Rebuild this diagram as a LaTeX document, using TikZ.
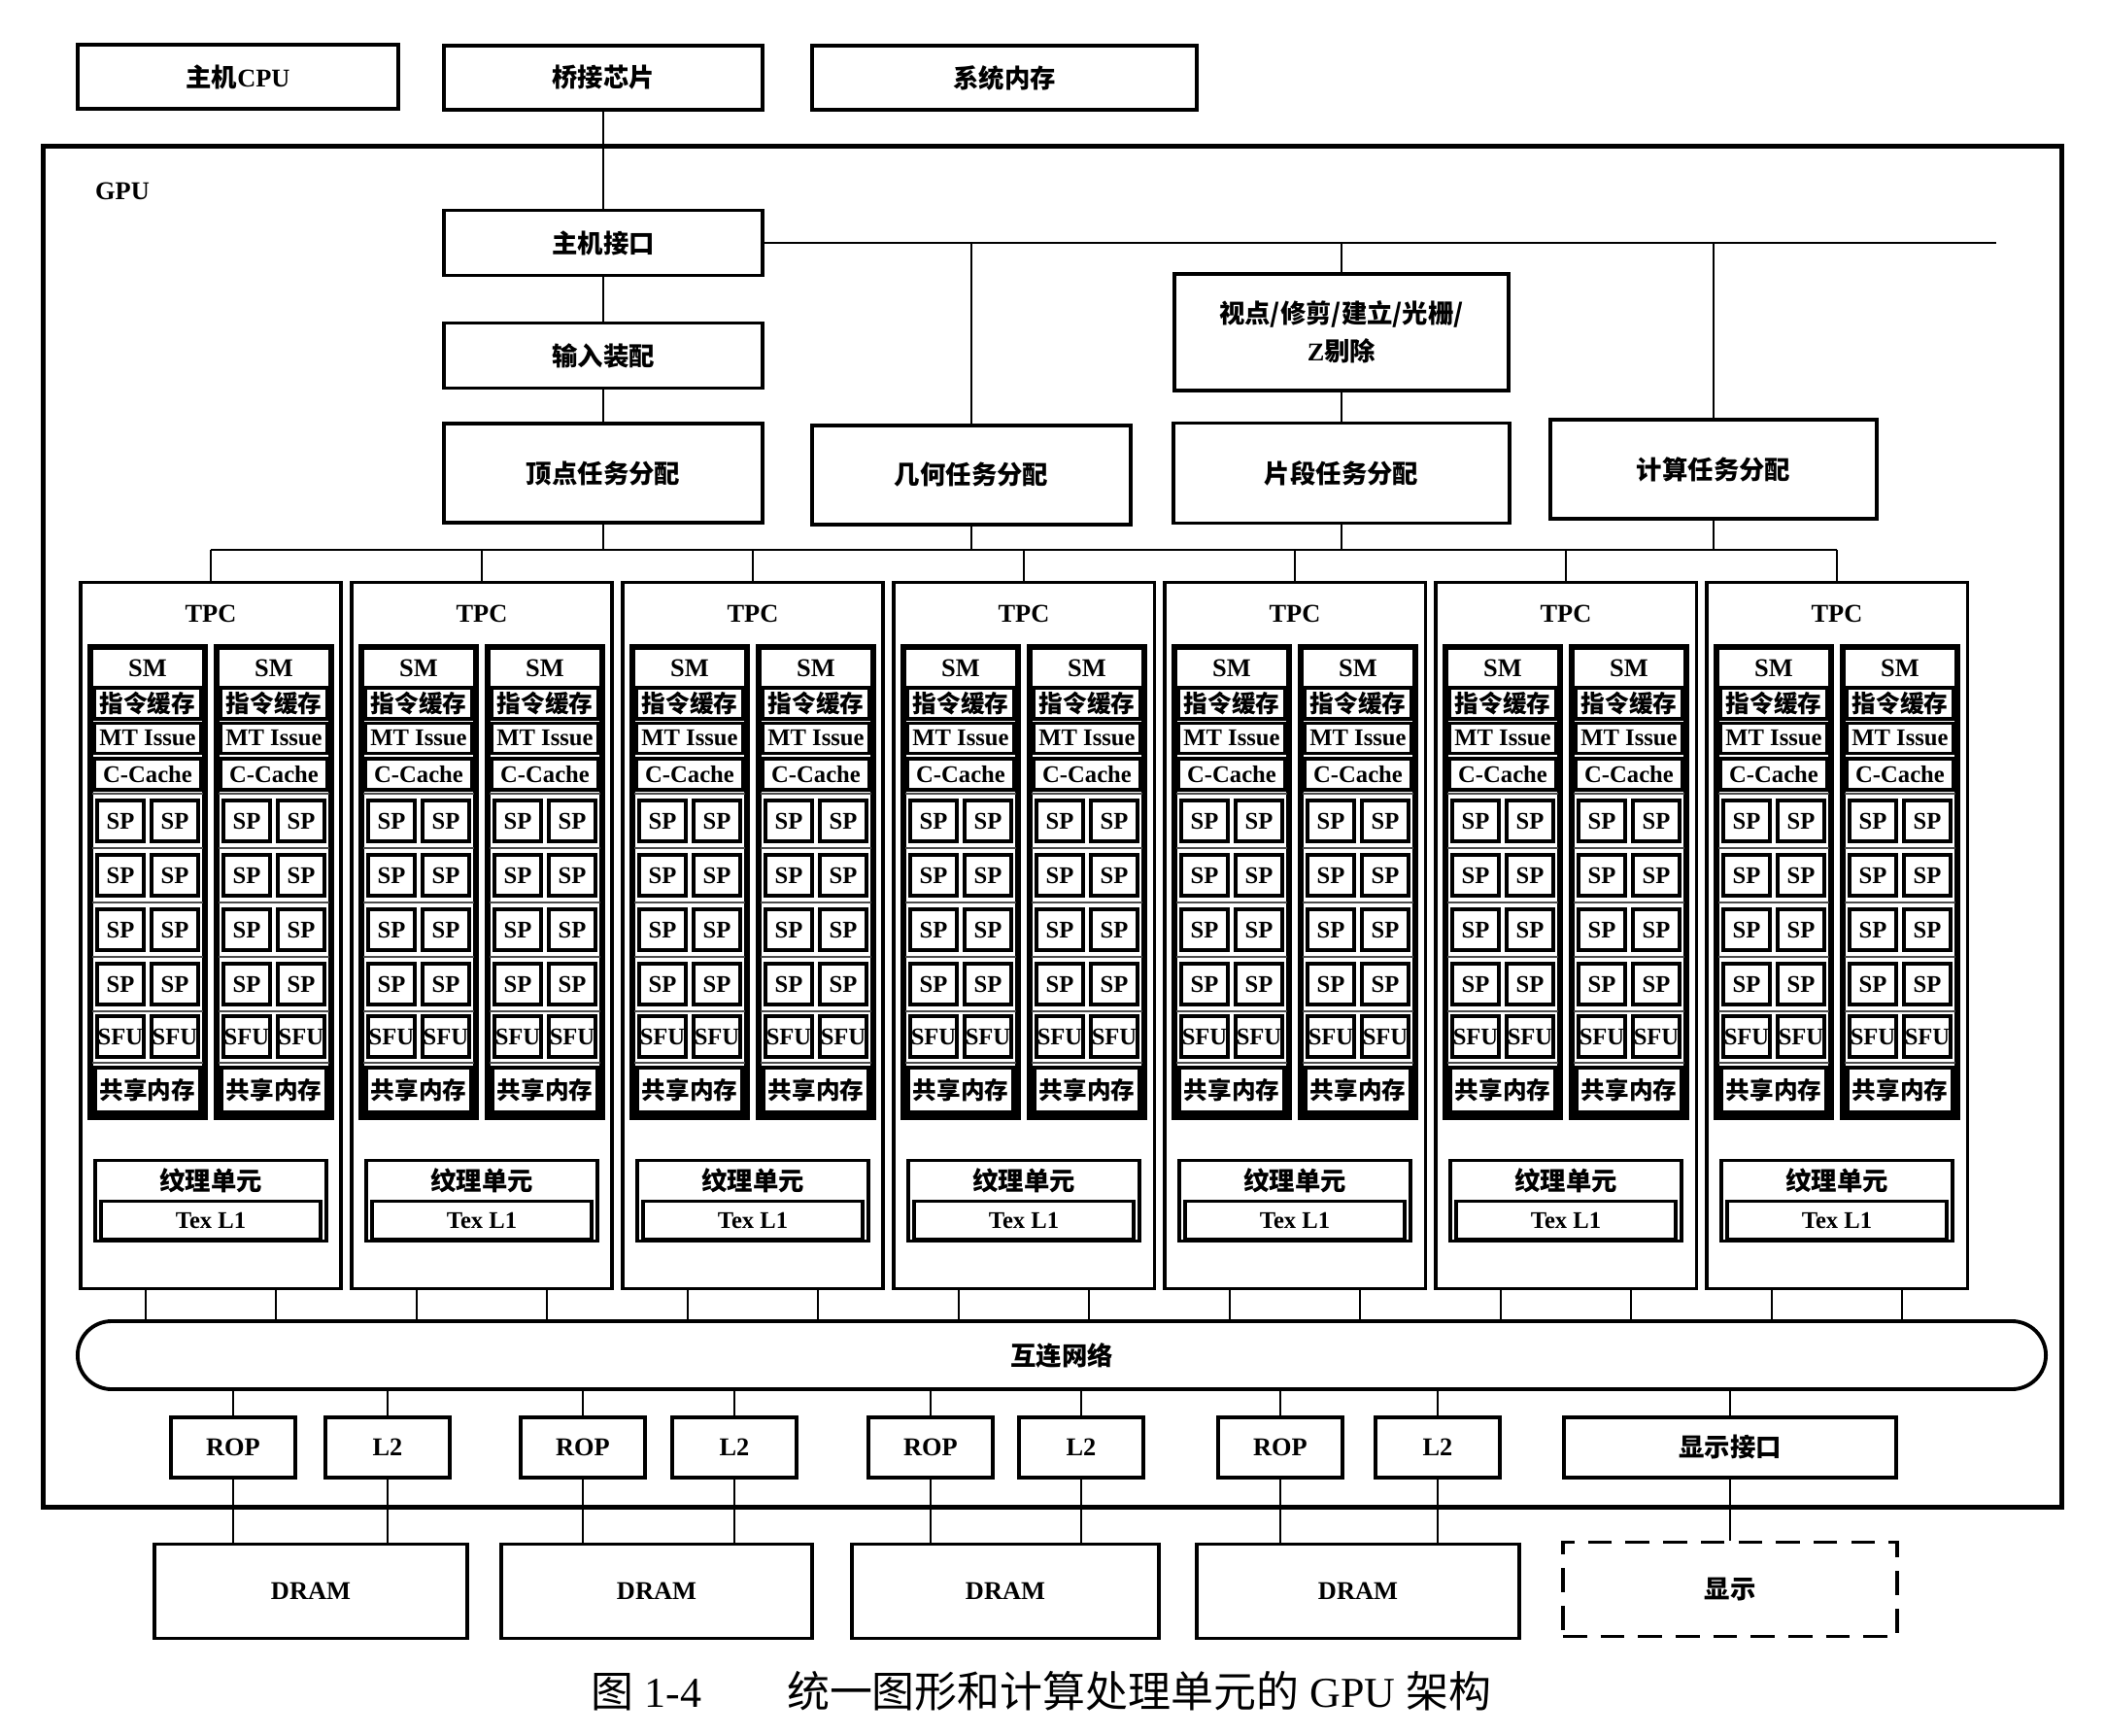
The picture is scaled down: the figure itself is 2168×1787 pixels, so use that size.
\documentclass[tikz,border=0pt]{standalone}
\usepackage{fontspec}
\setmainfont{Liberation Serif}
\newfontfamily\zh{Noto Sans CJK SC}
\tikzset{box/.style={draw,line width=1.1pt,inner sep=0pt,fill=white,font=\fontsize{7.5}{11}\selectfont\bfseries},
  wire/.style={line width=0.6pt},
  tpcbox/.style={draw,line width=0.9pt,minimum width=2.68cm,minimum height=7.26cm,inner sep=0pt},
  smbox/.style={draw,line width=1.6pt,minimum width=1.18cm,minimum height=4.84cm,inner sep=0pt},
  cell/.style={draw,line width=1.1pt,fill=white,inner sep=0pt,font=\fontsize{7}{8}\selectfont\bfseries},
  spcell/.style={cell,minimum width=0.48cm,minimum height=0.42cm},
  lab/.style={inner sep=0pt,font=\fontsize{7.5}{9}\selectfont\bfseries},
  rowsep/.style={line width=0.5pt,black!70}}
\begin{document}
\begin{tikzpicture}[x=0.01cm,y=-0.01cm]
    \useasboundingbox (0,0) rectangle (2168,1787);
    \node[draw,line width=1.5pt,minimum width=20.77cm,minimum height=14cm] (gpu) at (1083.5,851) {};
    \node[lab] (gpulab) at (126,197) {GPU};

    \node[box,minimum width=3.29cm,minimum height=0.66cm] (cpu) at (245,79) {{\zh 主机}CPU};
    \node[box,minimum width=3.28cm,minimum height=0.66cm] (bridge) at (621,80) {\zh 桥接芯片};
    \node[box,minimum width=3.95cm,minimum height=0.66cm] (sysmem) at (1034,80) {\zh 系统内存};

    \node[box,minimum width=3.28cm,minimum height=0.67cm] (hostif) at (621,250) {\zh 主机接口};
    \node[box,minimum width=3.28cm,minimum height=0.67cm] (input) at (621,366) {\zh 输入装配};
    \node[box,minimum width=3.28cm,minimum height=1.02cm] (vertex) at (621,487) {\zh 顶点任务分配};
    \node[box,minimum width=3.27cm,minimum height=1.02cm] (geom) at (1000,489) {\zh 几何任务分配};
    \node[box,minimum width=3.44cm,minimum height=1.2cm,align=center] (view) at (1381,342) {{\zh 视点/修剪/建立/光栅/}\\Z{\zh 剔除}};
    \node[box,minimum width=3.45cm,minimum height=1.03cm] (frag) at (1381,487) {\zh 片段任务分配};
    \node[box,minimum width=3.35cm,minimum height=1.02cm] (comp) at (1764,483) {\zh 计算任务分配};

    \coordinate (busa) at (2055,250);
    \coordinate (busb) at (217,566);
    \coordinate (busc) at (1891,566);

    \draw[wire] (bridge) -- (hostif);
    \draw[wire] (hostif) -- (input);
    \draw[wire] (input) -- (vertex);
    \draw[wire] (hostif.east) -- (busa);
    \draw[wire] (geom.north) -- (geom.north |- busa);
    \draw[wire] (view.north) -- (view.north |- busa);
    \draw[wire] (comp.north) -- (comp.north |- busa);
    \draw[wire] (view) -- (frag);
    \draw[wire] (busb) -- (busc);
    \draw[wire] (vertex.south) -- (vertex.south |- busb);
    \draw[wire] (geom.south) -- (geom.south |- busb);
    \draw[wire] (frag.south) -- (frag.south |- busb);
    \draw[wire] (comp.south) -- (comp.south |- busb);

    \node[draw,line width=1.1pt,rounded corners=0.35cm,minimum width=20.25cm,minimum height=0.7cm,font=\fontsize{7.5}{9}\selectfont\bfseries] (net) at (1093,1395) {\zh 互连网络};

    \foreach \i in {0,...,6}{
        \pgfmathsetmacro{\cx}{217+279*\i}
        \node[tpcbox] (tpc\i) at (\cx,963) {};
        \node[lab] (tpclab\i) at (\cx,632) {TPC};
        \draw[wire] (tpc\i.north) -- (tpc\i.north |- busb);
        \draw[wire] ([xshift=-0.67cm]tpc\i.south) -- ([xshift=-0.67cm]tpc\i.south |- net.north);
        \draw[wire] ([xshift=0.67cm]tpc\i.south) -- ([xshift=0.67cm]tpc\i.south |- net.north);
        \foreach \s/\d in {a/-65,b/65}{
            \pgfmathsetmacro{\sx}{\cx+\d}
            \node[smbox] (sm\i\s) at (\sx,908) {};
            \node[lab] (smlab\i\s) at (\sx,688) {SM};
            \node[cell,minimum width=1.1cm,minimum height=0.32cm] (ic\i\s) at (\sx,724) {\zh 指令缓存};
            \node[cell,minimum width=1.1cm,minimum height=0.31cm] (mt\i\s) at (\sx,760) {MT Issue};
            \node[cell,minimum width=1.1cm,minimum height=0.32cm] (cc\i\s) at (\sx,797) {C-Cache};
            \foreach \y in {817,873,929,985,1041,1094}
                \draw[rowsep] (\sx-57,\y) -- (\sx+57,\y);
            \foreach \r/\y in {1/845,2/901,3/957,4/1013}{
                \node[spcell] (spl\i\s\r) at (\sx-28,\y) {SP};
                \node[spcell] (spr\i\s\r) at (\sx+28,\y) {SP};
            }
            \node[spcell] (sfl\i\s) at (\sx-28,1067) {SFU};
            \node[spcell] (sfr\i\s) at (\sx+28,1067) {SFU};
            \node[cell,minimum width=1.08cm,minimum height=0.46cm] (shm\i\s) at (\sx,1122) {\zh 共享内存};
        }
        \node[draw,line width=1.1pt,minimum width=2.38cm,minimum height=0.83cm] (tex\i) at (\cx,1236) {};
        \node[lab] (texlab\i) at (\cx,1215) {\zh 纹理单元};
        \node[cell,minimum width=2.26cm,minimum height=0.39cm] (texl\i) at (\cx,1256) {Tex L1};
    }

    \foreach \k/\r/\l/\d/\w in {1/240/399/320/3.21cm,2/600/756/676/3.19cm,3/958/1113/1035/3.16cm,4/1318/1480/1398/3.31cm}{
        \node[box,minimum width=1.28cm,minimum height=0.62cm] (rop\k) at (\r,1490) {ROP};
        \node[box,minimum width=1.28cm,minimum height=0.62cm] (ltwo\k) at (\l,1490) {L2};
        \node[box,minimum width=\w,minimum height=0.97cm] (dram\k) at (\d,1638) {DRAM};
        \draw[wire] (rop\k.north |- net.south) -- (rop\k.north);
        \draw[wire] (ltwo\k.north |- net.south) -- (ltwo\k.north);
        \draw[wire] (rop\k.south) -- (rop\k.south |- dram\k.north);
        \draw[wire] (ltwo\k.south) -- (ltwo\k.south |- dram\k.north);
    }

    \node[box,minimum width=3.41cm,minimum height=0.62cm] (dispif) at (1781,1490) {\zh 显示接口};
    \node[box,dash pattern=on 7pt off 4pt,minimum width=3.44cm,minimum height=0.97cm] (disp) at (1781,1636) {\zh 显示};
    \draw[wire] (dispif.north |- net.south) -- (dispif.north);
    \draw[wire] (dispif) -- (disp);

    \node[inner sep=0pt,font=\fontsize{12.5}{14}\selectfont] (cap) at (1072,1741) {{\zh 图} 1-4\quad\quad{\zh 统一图形和计算处理单元的} GPU {\zh 架构}};
\end{tikzpicture}
\end{document}
